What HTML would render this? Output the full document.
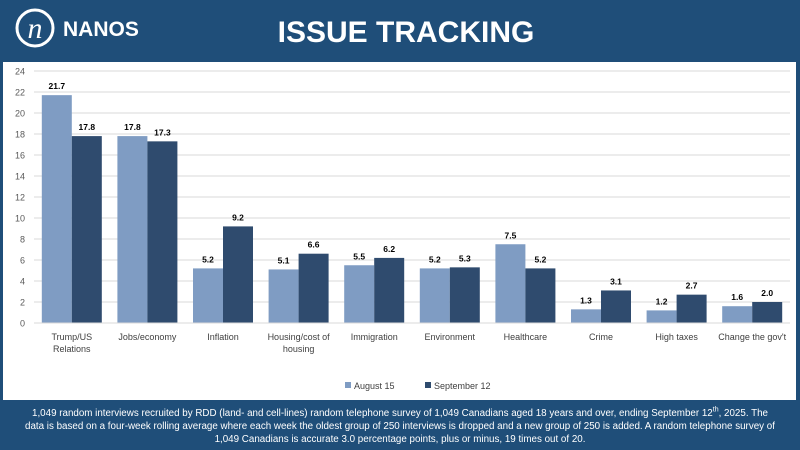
<!DOCTYPE html>
<html><head><meta charset="utf-8"><style>
body{margin:0;width:800px;height:450px;background:#1f4e79;font-family:"Liberation Sans",sans-serif;overflow:hidden;position:relative}
#hdr{position:absolute;left:0;top:0;width:800px;height:62px}
#panel{position:absolute;left:3px;top:62px;width:793px;height:338px;background:#fff}
#foot{position:absolute;left:22px;top:407px;width:756px;text-align:center;color:#fff;font-size:9.8px;line-height:13px}
</style></head><body>
<div id="hdr">
<svg width="800" height="62">
<circle cx="35" cy="28" r="18" fill="none" stroke="#fff" stroke-width="3"/>
<text x="35" y="38" text-anchor="middle" fill="#fff" font-family="Liberation Serif" font-style="italic" font-size="30">n</text>
<text x="63" y="36" fill="#fff" font-weight="bold" font-size="21">NANOS</text>
<text x="406" y="42" text-anchor="middle" fill="#fff" font-weight="bold" font-size="30">ISSUE TRACKING</text>
</svg></div>
<div id="panel">
<svg id="chart" width="793" height="338"></svg></div>
<div id="foot">1,049 random interviews recruited by RDD (land- and cell-lines) random telephone survey of 1,049 Canadians aged 18 years and over, ending September 12<sup style="font-size:7px;line-height:0">th</sup>, 2025. The data is based on a four-week rolling average where each week the oldest group of 250 interviews is dropped and a new group of 250 is added. A random telephone survey of 1,049 Canadians is accurate 3.0 percentage points, plus or minus, 19 times out of 20.</div>
<script>
const categories=[["Trump/US","Relations"],["Jobs/economy"],["Inflation"],["Housing/cost of","housing"],["Immigration"],["Environment"],["Healthcare"],["Crime"],["High taxes"],["Change the gov't"]];
const aug15=[21.7,17.8,5.2,5.1,5.5,5.2,7.5,1.3,1.2,1.6];
const sep12=[17.8,17.3,9.2,6.6,6.2,5.3,5.2,3.1,2.7,2.0];
const yTicks=[0,2,4,6,8,10,12,14,16,18,20,22,24];
const ns="http://www.w3.org/2000/svg",svg=document.getElementById('chart');
const x0=31,x1=787,yB=261,yT=9;
const y=v=>yB-(yB-yT)*v/24;
const bw=(x1-x0)/categories.length;
function mk(t,a,txt){const e=document.createElementNS(ns,t);for(const k in a)e.setAttribute(k,a[k]);if(txt!=null)e.textContent=txt;svg.appendChild(e);return e;}
yTicks.forEach(t=>{
const l=mk('line',{x1:x0,x2:x1,y1:y(t),y2:y(t),stroke:'#d9d9d9','stroke-width':1});


const tx=mk('text',{x:22,y:y(t)+3.5,'text-anchor':'end','font-size':9,fill:'#595959'},t);


});
categories.forEach((c,i)=>{
const cx=x0+bw*(i+0.5);
[[aug15[i],'#7f9cc3',cx-30,'aug'],[sep12[i],'#2f4b6e',cx,'sep']].forEach(([v,col,bx,s])=>{
const r=mk('rect',{x:bx,y:y(v),width:30,height:yB-y(v),fill:col});


const t=mk('text',{x:bx+15,y:y(v)-6,'text-anchor':'middle','font-size':8.5,'font-weight':'bold',fill:'#000'},v.toFixed(1));


});
c.forEach((ln,j)=>{
const t=mk('text',{x:cx,y:yB+17+j*12,'text-anchor':'middle','font-size':9,fill:'#404040'},ln);


});
});
mk('line',{x1:x0,x2:x1,y1:yB,y2:yB,stroke:'#d9d9d9'});
const lg=[['August 15','#7f9cc3',342],['September 12','#2f4b6e',422]];
lg.forEach(([n,c,lx],k)=>{
const r=mk('rect',{x:lx,y:320,width:6,height:6,fill:c});


const t=mk('text',{x:lx+9,y:327,'font-size':9,fill:'#404040'},n);


});
</script>
</body></html>
